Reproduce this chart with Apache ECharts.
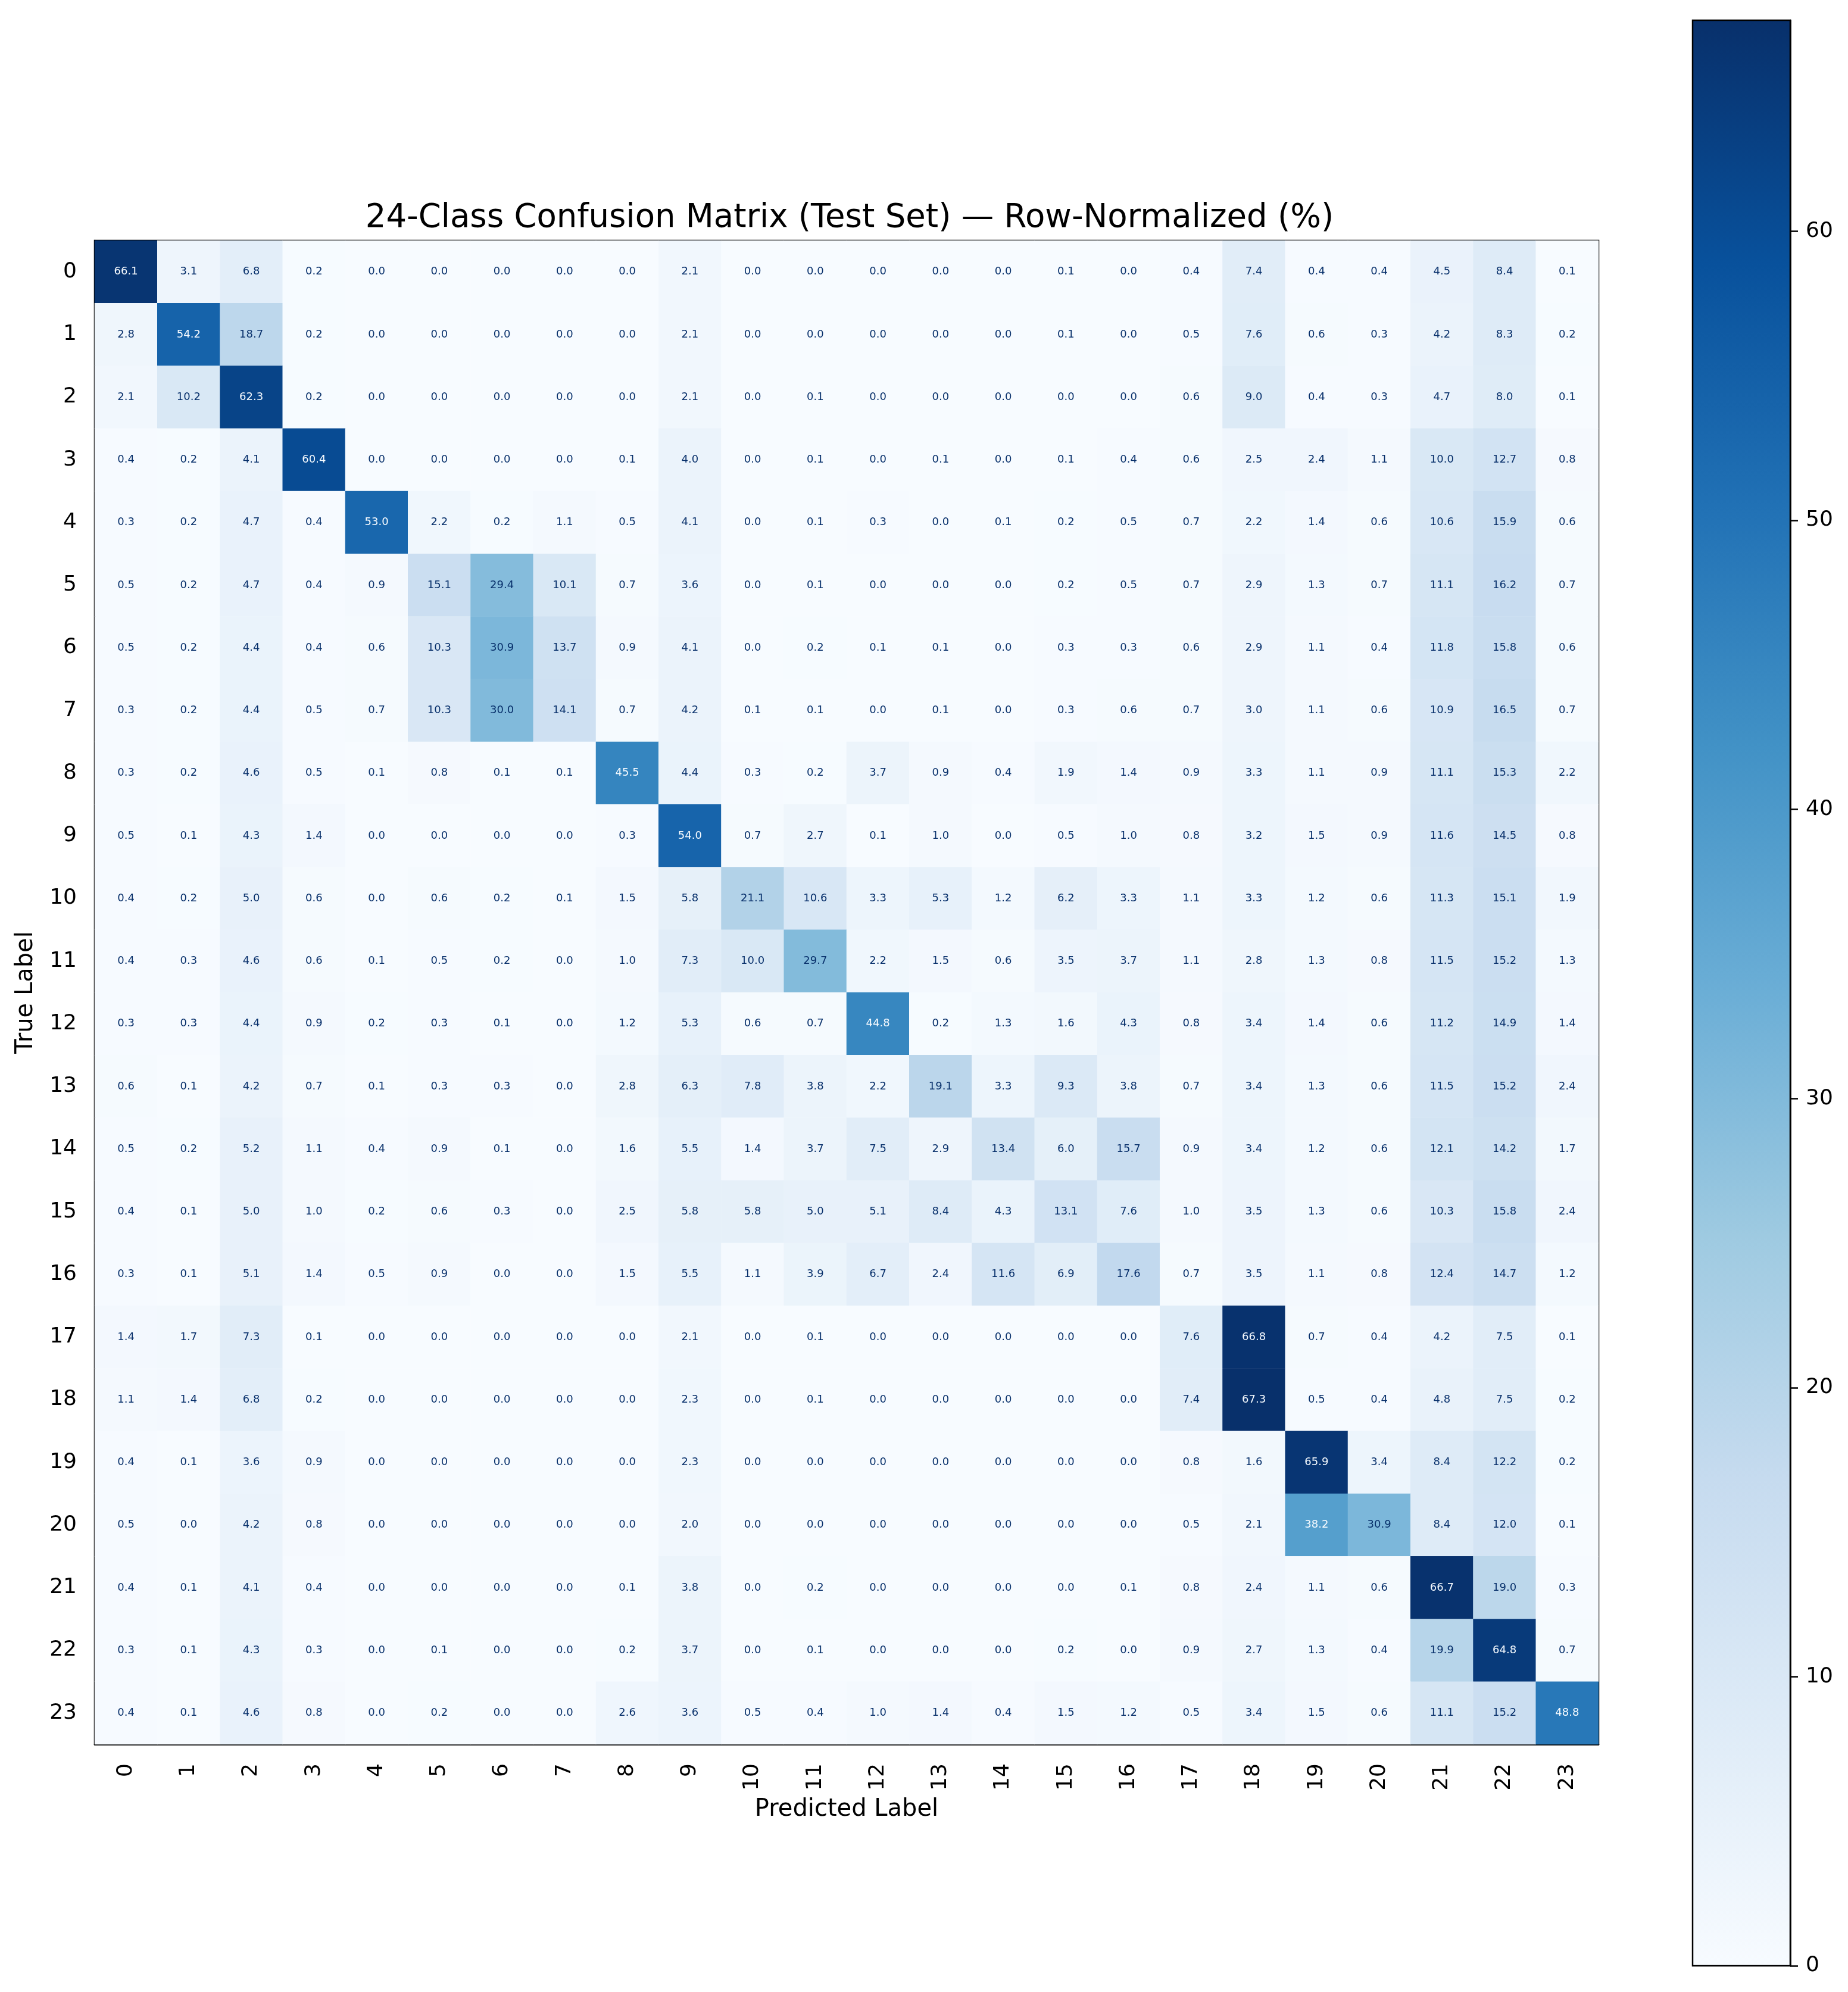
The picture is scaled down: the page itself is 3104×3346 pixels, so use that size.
<!DOCTYPE html>
<html lang="en">
<head>
    <meta charset="utf-8">
    <title>24-Class Confusion Matrix</title>
    <script type="text/javascript" src="https://cdn.jsdelivr.net/npm/echarts@6/dist/echarts.min.js"></script>
    <style>
        html, body { margin: 0; padding: 0; background: #ffffff; }
        #chartMain { width: 3104px; height: 3346px; }
    </style>
</head>
<body>
    <div id="chartMain"></div>
    <script type="text/javascript">
        // class labels (rows = true, columns = predicted)
        var classes = ['0','1','2','3','4','5','6','7','8','9','10','11','12','13','14','15','16','17','18','19','20','21','22','23'];

        // row-normalized percentages, one row per true label
        var row0  = [66.1, 3.1, 6.8, 0.2, 0.0, 0.0, 0.0, 0.0, 0.0, 2.1, 0.0, 0.0, 0.0, 0.0, 0.0, 0.1, 0.0, 0.4, 7.4, 0.4, 0.4, 4.5, 8.4, 0.1];
        var row1  = [2.8, 54.2, 18.7, 0.2, 0.0, 0.0, 0.0, 0.0, 0.0, 2.1, 0.0, 0.0, 0.0, 0.0, 0.0, 0.1, 0.0, 0.5, 7.6, 0.6, 0.3, 4.2, 8.3, 0.2];
        var row2  = [2.1, 10.2, 62.3, 0.2, 0.0, 0.0, 0.0, 0.0, 0.0, 2.1, 0.0, 0.1, 0.0, 0.0, 0.0, 0.0, 0.0, 0.6, 9.0, 0.4, 0.3, 4.7, 8.0, 0.1];
        var row3  = [0.4, 0.2, 4.1, 60.4, 0.0, 0.0, 0.0, 0.0, 0.1, 4.0, 0.0, 0.1, 0.0, 0.1, 0.0, 0.1, 0.4, 0.6, 2.5, 2.4, 1.1, 10.0, 12.7, 0.8];
        var row4  = [0.3, 0.2, 4.7, 0.4, 53.0, 2.2, 0.2, 1.1, 0.5, 4.1, 0.0, 0.1, 0.3, 0.0, 0.1, 0.2, 0.5, 0.7, 2.2, 1.4, 0.6, 10.6, 15.9, 0.6];
        var row5  = [0.5, 0.2, 4.7, 0.4, 0.9, 15.1, 29.4, 10.1, 0.7, 3.6, 0.0, 0.1, 0.0, 0.0, 0.0, 0.2, 0.5, 0.7, 2.9, 1.3, 0.7, 11.1, 16.2, 0.7];
        var row6  = [0.5, 0.2, 4.4, 0.4, 0.6, 10.3, 30.9, 13.7, 0.9, 4.1, 0.0, 0.2, 0.1, 0.1, 0.0, 0.3, 0.3, 0.6, 2.9, 1.1, 0.4, 11.8, 15.8, 0.6];
        var row7  = [0.3, 0.2, 4.4, 0.5, 0.7, 10.3, 30.0, 14.1, 0.7, 4.2, 0.1, 0.1, 0.0, 0.1, 0.0, 0.3, 0.6, 0.7, 3.0, 1.1, 0.6, 10.9, 16.5, 0.7];
        var row8  = [0.3, 0.2, 4.6, 0.5, 0.1, 0.8, 0.1, 0.1, 45.5, 4.4, 0.3, 0.2, 3.7, 0.9, 0.4, 1.9, 1.4, 0.9, 3.3, 1.1, 0.9, 11.1, 15.3, 2.2];
        var row9  = [0.5, 0.1, 4.3, 1.4, 0.0, 0.0, 0.0, 0.0, 0.3, 54.0, 0.7, 2.7, 0.1, 1.0, 0.0, 0.5, 1.0, 0.8, 3.2, 1.5, 0.9, 11.6, 14.5, 0.8];
        var row10 = [0.4, 0.2, 5.0, 0.6, 0.0, 0.6, 0.2, 0.1, 1.5, 5.8, 21.1, 10.6, 3.3, 5.3, 1.2, 6.2, 3.3, 1.1, 3.3, 1.2, 0.6, 11.3, 15.1, 1.9];
        var row11 = [0.4, 0.3, 4.6, 0.6, 0.1, 0.5, 0.2, 0.0, 1.0, 7.3, 10.0, 29.7, 2.2, 1.5, 0.6, 3.5, 3.7, 1.1, 2.8, 1.3, 0.8, 11.5, 15.2, 1.3];
        var row12 = [0.3, 0.3, 4.4, 0.9, 0.2, 0.3, 0.1, 0.0, 1.2, 5.3, 0.6, 0.7, 44.8, 0.2, 1.3, 1.6, 4.3, 0.8, 3.4, 1.4, 0.6, 11.2, 14.9, 1.4];
        var row13 = [0.6, 0.1, 4.2, 0.7, 0.1, 0.3, 0.3, 0.0, 2.8, 6.3, 7.8, 3.8, 2.2, 19.1, 3.3, 9.3, 3.8, 0.7, 3.4, 1.3, 0.6, 11.5, 15.2, 2.4];
        var row14 = [0.5, 0.2, 5.2, 1.1, 0.4, 0.9, 0.1, 0.0, 1.6, 5.5, 1.4, 3.7, 7.5, 2.9, 13.4, 6.0, 15.7, 0.9, 3.4, 1.2, 0.6, 12.1, 14.2, 1.7];
        var row15 = [0.4, 0.1, 5.0, 1.0, 0.2, 0.6, 0.3, 0.0, 2.5, 5.8, 5.8, 5.0, 5.1, 8.4, 4.3, 13.1, 7.6, 1.0, 3.5, 1.3, 0.6, 10.3, 15.8, 2.4];
        var row16 = [0.3, 0.1, 5.1, 1.4, 0.5, 0.9, 0.0, 0.0, 1.5, 5.5, 1.1, 3.9, 6.7, 2.4, 11.6, 6.9, 17.6, 0.7, 3.5, 1.1, 0.8, 12.4, 14.7, 1.2];
        var row17 = [1.4, 1.7, 7.3, 0.1, 0.0, 0.0, 0.0, 0.0, 0.0, 2.1, 0.0, 0.1, 0.0, 0.0, 0.0, 0.0, 0.0, 7.6, 66.8, 0.7, 0.4, 4.2, 7.5, 0.1];
        var row18 = [1.1, 1.4, 6.8, 0.2, 0.0, 0.0, 0.0, 0.0, 0.0, 2.3, 0.0, 0.1, 0.0, 0.0, 0.0, 0.0, 0.0, 7.4, 67.3, 0.5, 0.4, 4.8, 7.5, 0.2];
        var row19 = [0.4, 0.1, 3.6, 0.9, 0.0, 0.0, 0.0, 0.0, 0.0, 2.3, 0.0, 0.0, 0.0, 0.0, 0.0, 0.0, 0.0, 0.8, 1.6, 65.9, 3.4, 8.4, 12.2, 0.2];
        var row20 = [0.5, 0.0, 4.2, 0.8, 0.0, 0.0, 0.0, 0.0, 0.0, 2.0, 0.0, 0.0, 0.0, 0.0, 0.0, 0.0, 0.0, 0.5, 2.1, 38.2, 30.9, 8.4, 12.0, 0.1];
        var row21 = [0.4, 0.1, 4.1, 0.4, 0.0, 0.0, 0.0, 0.0, 0.1, 3.8, 0.0, 0.2, 0.0, 0.0, 0.0, 0.0, 0.1, 0.8, 2.4, 1.1, 0.6, 66.7, 19.0, 0.3];
        var row22 = [0.3, 0.1, 4.3, 0.3, 0.0, 0.1, 0.0, 0.0, 0.2, 3.7, 0.0, 0.1, 0.0, 0.0, 0.0, 0.2, 0.0, 0.9, 2.7, 1.3, 0.4, 19.9, 64.8, 0.7];
        var row23 = [0.4, 0.1, 4.6, 0.8, 0.0, 0.2, 0.0, 0.0, 2.6, 3.6, 0.5, 0.4, 1.0, 1.4, 0.4, 1.5, 1.2, 0.5, 3.4, 1.5, 0.6, 11.1, 15.2, 48.8];

        var rows = [row0, row1, row2, row3, row4, row5, row6, row7, row8, row9, row10, row11,
                    row12, row13, row14, row15, row16, row17, row18, row19, row20, row21, row22, row23];

        // colour scale range and colorbar ticks
        var vMin = 0;
        var vMax = 67.3;
        var cbarTicks = [0, 10, 20, 30, 40, 50, 60];

        // matplotlib "Blues"
        var blues = ['#f7fbff', '#deebf7', '#c6dbef', '#9ecae1', '#6baed6', '#4292c6', '#2171b5', '#08519c', '#08306b'];

        var FONT = 'DejaVu Sans';
        var threshold = (vMin + vMax) / 2;

        var heatData = [];
        rows.forEach(function (r, i) {
            r.forEach(function (v, j) {
                heatData.push({
                    value: [j, i, v],
                    label: { color: v > threshold ? blues[0] : blues[8] }
                });
            });
        });

        var stops = blues.map(function (c, k) {
            return { offset: k / (blues.length - 1), color: c };
        });

        var chart = echarts.init(document.getElementById('chartMain'));
        chart.setOption({
            animation: false,
            backgroundColor: '#ffffff',
            textStyle: { fontFamily: FONT },
            title: {
                text: '24-Class Confusion Matrix (Test Set) \u2014 Row-Normalized (%)',
                left: 1422,
                top: 334,
                textAlign: 'center',
                textStyle: { fontFamily: FONT, fontSize: 54.5, fontWeight: 'normal', color: '#000' }
            },
            grid: [
                { left: 159, top: 404, width: 2526, height: 2526, show: true, borderColor: '#000', borderWidth: 2.5, backgroundColor: 'transparent' },
                { left: 2843, top: 34, width: 164, height: 3268, show: true, borderColor: '#000', borderWidth: 2.5, backgroundColor: 'transparent' }
            ],
            xAxis: [
                {
                    gridIndex: 0,
                    type: 'category',
                    data: classes,
                    position: 'bottom',
                    name: 'Predicted Label',
                    nameLocation: 'middle',
                    nameGap: 90,
                    nameTextStyle: { fontFamily: FONT, fontSize: 40, color: '#000' },
                    axisLine: { lineStyle: { color: '#000', width: 2.5 } },
                    axisTick: { alignWithLabel: true, length: 13, lineStyle: { color: '#000', width: 2.5 } },
                    axisLabel: { rotate: 90, margin: 32, fontFamily: FONT, fontSize: 36, color: '#000' },
                    splitLine: { show: false }
                },
                {
                    gridIndex: 1,
                    type: 'category',
                    data: ['cbar'],
                    show: false
                }
            ],
            yAxis: [
                {
                    gridIndex: 0,
                    type: 'category',
                    data: classes,
                    inverse: true,
                    name: 'True Label',
                    nameLocation: 'middle',
                    nameGap: 95,
                    nameTextStyle: { fontFamily: FONT, fontSize: 40, color: '#000' },
                    axisLine: { lineStyle: { color: '#000', width: 2.5 } },
                    axisTick: { alignWithLabel: true, length: 13, lineStyle: { color: '#000', width: 2.5 } },
                    axisLabel: { margin: 30, fontFamily: FONT, fontSize: 36, color: '#000' },
                    splitLine: { show: false }
                },
                {
                    gridIndex: 1,
                    type: 'value',
                    position: 'right',
                    min: vMin,
                    max: vMax,
                    interval: cbarTicks[1] - cbarTicks[0],
                    axisLine: { show: true, lineStyle: { color: '#000', width: 2.5 } },
                    axisTick: { show: true, length: 13, lineStyle: { color: '#000', width: 2.5 } },
                    axisLabel: {
                        margin: 26, fontFamily: FONT, fontSize: 36, color: '#000',
                        showMaxLabel: false,
                        formatter: function (v) { return cbarTicks.indexOf(v) >= 0 ? String(v) : ''; }
                    },
                    splitLine: { show: false }
                }
            ],
            visualMap: {
                show: false,
                seriesIndex: 0,
                dimension: 2,
                min: vMin,
                max: vMax,
                inRange: { color: blues }
            },
            series: [
                {
                    type: 'heatmap',
                    xAxisIndex: 0,
                    yAxisIndex: 0,
                    data: heatData,
                    itemStyle: { borderWidth: 0 },
                    label: {
                        show: true,
                        fontFamily: FONT,
                        fontSize: 18,
                        formatter: function (p) { return p.value[2].toFixed(1); }
                    },
                    emphasis: { disabled: true }
                },
                {
                    type: 'bar',
                    xAxisIndex: 1,
                    yAxisIndex: 1,
                    z: -1,
                    data: [vMax],
                    barWidth: '100%',
                    silent: true,
                    itemStyle: {
                        color: { type: 'linear', x: 0, y: 1, x2: 0, y2: 0, colorStops: stops }
                    }
                }
            ]
        });
    </script>
</body>
</html>
